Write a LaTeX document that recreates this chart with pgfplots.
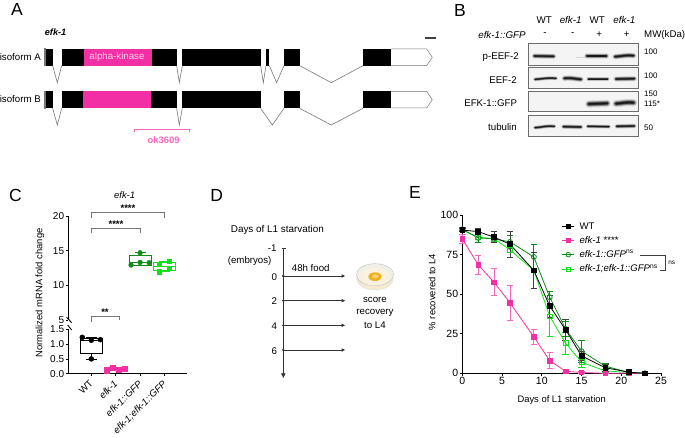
\documentclass[border=0pt]{standalone}
\usepackage{pgfplots}
\pgfplotsset{compat=1.18}
\usepgfplotslibrary{statistics}
\usepackage{fontspec}
\setmainfont{Liberation Sans}
\usetikzlibrary{arrows.meta}
\definecolor{mypink}{HTML}{F32FA5}
\definecolor{lpink}{HTML}{F766BE}
\definecolor{dgreen}{HTML}{0E8C18}
\definecolor{lgreen}{HTML}{12E01A}
\definecolor{gline}{HTML}{777777}
\definecolor{blotbg}{HTML}{F4F4F4}
\definecolor{dishA}{HTML}{F4EAD0}
\definecolor{dishB}{HTML}{EFEFEA}
\definecolor{dishC}{HTML}{FAF2DE}
\definecolor{dishD}{HTML}{EFB020}
\definecolor{dishE}{HTML}{F6CF70}
\newcommand{\fs}[1]{\fontsize{#1}{#1}\selectfont}
\newcommand{\band}[5]{% x1 y1 x2 y2 strength
  \foreach \w/\o in {20/0.08,16/0.14,13/0.2,10/0.3,7/0.45,4/0.6}{
    \draw[line width=\w*#5*0.3333pt,line cap=round,black,opacity=\o] (#1,#2) .. controls ({(#1+#3)/2},{#2-2}) and ({(#1+#3)/2},{#4-2}) .. (#3,#4);
  }}
\newcommand{\blotbox}[2]{\fill[blotbg] (250,#1) rectangle (580,#2); \draw[gray!85!black,line width=0.9pt] (250,#1) rectangle (580,#2);}
\pgfplotstableread{
x y e
0 90.5 1
2 89.5 2
4 86 3.5
6 81.5 8
9 65 11.5
11 42.5 7
13 27.5 6.5
15 11 3
18 3.5 2
21 0.7 0.5
23 0 0
}\tWT
\pgfplotstableread{
x y e
0 85 3
2 68.5 6
4 57.5 8.5
6 44.5 11
9 23 4.5
11 8 5
13 1.3 1
15 0.5 0.5
18 0 0
21 0 0
23 0 0
}\tKO
\pgfplotstableread{
x y e
0 91 1
2 85.5 3
4 85 2
6 83 4
9 73.5 8
11 48 4
13 28 5
15 14 7
18 4.5 2
21 0.5 0.5
23 0 0
}\tGFP
\pgfplotstableread{
x y e
0 90.5 1
2 86 3
4 85 2
6 78 5
9 65 11.5
11 36 13
13 19 7
15 7 3
18 1.5 1
21 0.5 0.5
23 0 0
}\tDBL
\begin{document}
\begin{tikzpicture}
\useasboundingbox (0,0) rectangle (685pt,-437pt);
% ---------- Panel A
\begin{scope}[x=0.3333pt,y=-0.3333pt]
\node[font=\fs{17.5}] at (51,27) {A};
\node[font=\fs{9.2}\bfseries\itshape,anchor=west,inner sep=0pt] at (134,98) {efk-1};
\fill[black!75] (1275,110) rectangle (1307,116);
\node[font=\fs{9.7},anchor=east,inner sep=0pt] at (123,171) {isoform A};
\node[font=\fs{9.7},anchor=east,inner sep=0pt] at (123,296) {isoform B};
\draw[gline,line width=0.5pt] (134,146) rectangle (137,197);
\draw[gline,line width=0.5pt] (134,273) rectangle (137,325);
\foreach \a/\b in {137/158,185/251,455/530,547/782,798/808,852/899,1089/1174}
  \fill[black] (\a,146) rectangle (\b,198);
\fill[mypink] (251,146) rectangle (455,198);
\node[font=\fs{9.7},white!80!mypink] at (351,172) {alpha-kinase};
\draw[gline,line width=0.5pt,fill=white] (1174,147)--(1280,147)--(1297,172)--(1280,197)--(1174,197);
\foreach \a/\m/\b in {158/172/185,530/538/547,782/790/798,808/830/852,899/994/1089}
  \draw[gline,line width=0.6pt] (\a,197)--(\m,248)--(\b,197);
\foreach \a/\b in {137/158,185/250,454/530,547/782,852/899,1089/1174}
  \fill[black] (\a,273) rectangle (\b,325);
\fill[mypink] (250,273) rectangle (454,325);
\draw[gline,line width=0.5pt,fill=white] (1174,274)--(1280,274)--(1297,299)--(1280,324)--(1174,324);
\foreach \a/\m/\b in {158/172/185,530/538/547,782/817/852,899/994/1089}
  \draw[gline,line width=0.6pt] (\a,325)--(\m,375)--(\b,325);
\draw[lpink,line width=0.6pt] (403,396)--(403,389)--(569,389)--(569,396);
\node[font=\fs{9.4}\bfseries,text=lpink] at (491,420) {ok3609};
\end{scope}
% ---------- Panel B
\begin{scope}[shift={(445pt,0pt)},x=0.3333pt,y=-0.3333pt]
\node[font=\fs{17.5}] at (45,31) {B};
\foreach \x/\t in {298/WT,457/WT} \node[font=\fs{9.8}] at (\x,59) {\t};
\foreach \x in {377,538} \node[font=\fs{9.8}\itshape] at (\x,60) {efk-1};
\node[font=\fs{9.8}\itshape] at (171,104) {efk-1::GFP};
\foreach \x/\t in {300/-,383/-,463/+,545/+} \node[font=\fs{9.8}] at (\x,103) {\t};
\node[font=\fs{9.7},anchor=west,inner sep=0pt] at (597,104) {MW(kDa)};
\node[font=\fs{9.7},anchor=east,inner sep=0pt] at (222,170) {p-EEF-2};
\node[font=\fs{9.7},anchor=east,inner sep=0pt] at (216,240) {EEF-2};
\node[font=\fs{9.7},anchor=east,inner sep=0pt] at (217,311) {EFK-1::GFP};
\node[font=\fs{9.7},anchor=east,inner sep=0pt] at (216,381) {tubulin};
\foreach \y/\t in {155/100,228/100,282/150,311/115*,384/50} \node[font=\fs{8},anchor=west,inner sep=0pt] at (597,\y) {\t};
\blotbox{130}{195}\blotbox{203}{265}\blotbox{274}{335}\blotbox{345}{408}
\band{268}{168}{326}{169}{0.8}
\draw[line width=1pt,line cap=round,black,opacity=0.12] (395,172)--(420,172);
\band{426}{168}{484}{168}{0.85}
\band{510}{170}{566}{167}{0.85}
\band{270}{238}{333}{235}{0.6}
\band{358}{235}{408}{238}{0.85}
\band{430}{237}{488}{237}{0.6}
\band{513}{237}{568}{236}{0.8}
\band{431}{312}{487}{310}{1.1}
\band{513}{311}{566}{308}{1.1}
\band{270}{383}{328}{379}{0.6}
\band{355}{380}{408}{381}{0.7}
\band{428}{379}{492}{380}{0.6}
\band{515}{379}{568}{378}{0.7}
\end{scope}
% ---------- Panel C annotations
\begin{scope}[shift={(0pt,-180pt)},x=0.3333pt,y=-0.3333pt]
\node[font=\fs{17.5}] at (46,45) {C};
\node[font=\fs{9.4}\itshape] at (374,45) {efk-1};
\draw[gline,line width=0.7pt] (274,113)--(274,97)--(494,97)--(494,113);
\draw[gline,line width=0.7pt] (274,160)--(274,145)--(421,145)--(421,160);
\draw[gline,line width=0.7pt] (274,425)--(274,410)--(357,410)--(357,420);
\node[font=\fs{9.6}\bfseries] at (384,85) {****};
\node[font=\fs{9.6}\bfseries] at (348,133) {****};
\node[font=\fs{9.6}\bfseries] at (315,398) {**};
\draw[black,line width=0.9pt] (200,412)--(215,428);
\draw[black,line width=0.9pt] (203,435)--(215,450);
\end{scope}
% lower part of C
\begin{axis}[at={(68.3pt,-373.7pt)},anchor=south west,scale only axis,width=118.4pt,height=44.4pt,
  axis lines=left,axis line style={-,line width=0.9pt},xmin=-0.943,xmax=3.91,ymin=0,ymax=1.5,
  ytick={0,0.5,1,1.5},yticklabels={0.0,0.5,1.0,1.5},xtick={0,1,2,3},
  xticklabels={WT,\textit{efk-1},\textit{efk-1::GFP},\textit{efk-1;efk-1::GFP}},
  x tick label style={rotate=45,anchor=north east,font=\fs{9.6},inner sep=1.5pt,yshift=1pt,xshift=-2.5pt},
  y tick label style={font=\fs{10},inner sep=1.5pt},
  /pgf/number format/assume math mode=true,
  tick align=outside,major tick length=2.5pt,tick style={black,line width=0.7pt},
  ylabel={Normalized mRNA fold change},
  every axis y label/.style={at={(rel axis cs:-0.239,1.82)},rotate=90,anchor=center,font=\fs{9.4}},
  clip=false]
\addplot[black,line width=0.8pt,boxplot/draw direction=y,boxplot prepared={lower whisker=0.5,lower quartile=0.68,median=1.13,upper quartile=1.18,upper whisker=1.23,draw position=0,box extend=0.9,whisker extend=0.45}] coordinates {};
\addplot[only marks,mark=*,mark size=2.5pt,black] coordinates {(-0.37,1.23)(0,1.13)(0.37,1.15)(0,0.5)};
\addplot[mypink,line width=0.8pt,boxplot/draw direction=y,boxplot prepared={lower whisker=0.1,lower quartile=0.12,median=0.17,upper quartile=0.2,upper whisker=0.21,draw position=1,box extend=0.9,whisker extend=0.45}] coordinates {};
\addplot[only marks,mark=square*,mark size=2.5pt,mypink] coordinates {(0.64,0.1)(0.89,0.21)(1.14,0.15)(1.38,0.18)};
\end{axis}
% upper part of C
\begin{axis}[at={(68.3pt,-320pt)},anchor=south west,scale only axis,width=118.4pt,height=104pt,
  axis y line=left,axis x line=none,axis line style={-,line width=0.9pt},xmin=-0.943,xmax=3.91,ymin=5,ymax=20,
  ytick={5,10,15,20},
  y tick label style={font=\fs{10},inner sep=1.5pt},
  /pgf/number format/assume math mode=true,
  tick align=outside,major tick length=2.5pt,tick style={black,line width=0.7pt},clip=false]
\addplot[dgreen,line width=0.8pt,boxplot/draw direction=y,boxplot prepared={lower whisker=12.93,lower quartile=12.93,median=13.3,upper quartile=14.28,upper whisker=14.7,draw position=2,box extend=0.9,whisker extend=0.45}] coordinates {};
\addplot[only marks,mark=*,mark size=2.4pt,dgreen] coordinates {(1.63,12.93)(2,13.3)(2.37,13.27)(2,14.7)};
\addplot[lgreen,line width=0.8pt,boxplot/draw direction=y,boxplot prepared={lower whisker=12,lower quartile=12.1,median=12.8,upper quartile=13.3,upper whisker=13.5,draw position=3,box extend=0.9,whisker extend=0.45}] coordinates {};
\addplot[only marks,mark=square*,mark size=2.3pt,lgreen] coordinates {(2.78,13.04)(2.78,11.97)(3.19,13.5)(3.19,12.46)};
\end{axis}
% ---------- Panel D
\begin{scope}[shift={(200pt,-180pt)},x=0.3333pt,y=-0.3333pt]
\node[font=\fs{17.5}] at (50,45) {D};
\node[font=\fs{9.9},anchor=west,inner sep=0pt] at (92,150) {Days of L1 starvation};
\draw[black!80,line width=0.7pt,-{Latex[length=5pt,width=5pt]}] (250,205)--(250,595);
\draw[black!80,line width=0.7pt] (245,205)--(258,205);
\node[font=\fs{9.7},anchor=east,inner sep=0pt] at (230,205) {-1};
\node[font=\fs{9.7},anchor=east,inner sep=0pt] at (215,244) {(embryos)};
\node[font=\fs{9.7},anchor=west,inner sep=0pt] at (275,263) {48h food};
\foreach \y/\ty/\t in {288/290/0,362/362/2,436/438/4,510/515/6}{
  \node[font=\fs{9.7},anchor=east,inner sep=0pt] at (232,\ty) {\t};
  \fill[black!80] (250,\y) circle (4);
  \draw[black!80,line width=0.7pt,-{Latex[length=3.6pt,width=3.6pt]}] (250,\y)--(436,\y);
}
\fill[dishA,draw=black!12,line width=0.4pt] (525,296) ellipse (55 and 34);
\fill[dishB,draw=black!25,line width=0.4pt] (525,284) ellipse (56 and 33);
\fill[dishC] (525,290) ellipse (46 and 26);
\fill[dishD] (525,290) ellipse (20 and 13);
\fill[dishE] (526,289) ellipse (10 and 6);
\node[font=\fs{9.7}] at (525,360) {score};
\node[font=\fs{9.7}] at (525,398) {recovery};
\node[font=\fs{9.7}] at (525,436) {to L4};
\end{scope}
% ---------- Panel E
\begin{scope}[shift={(410pt,-180pt)},x=0.3333pt,y=-0.3333pt]
\node[font=\fs{17.5}] at (15,38) {E};
\end{scope}
\begin{axis}[at={(462.3pt,-373.3pt)},anchor=south west,scale only axis,width=198.7pt,height=158.3pt,
  axis lines=left,axis line style={-,line width=0.9pt},xmin=0,xmax=25,ymin=0,ymax=100,
  xtick={0,5,...,25},ytick={0,25,50,75,100},
  tick label style={font=\fs{10.5},inner sep=1.5pt},
  /pgf/number format/assume math mode=true,
  tick align=outside,major tick length=2.5pt,tick style={black,line width=0.7pt},
  xlabel={Days of L1 starvation},ylabel={\% recovered to L4},
  every axis x label/.style={at={(rel axis cs:0.5,-0.169)},anchor=center,font=\fs{9.4}},
  every axis y label/.style={at={(rel axis cs:-0.1525,0.514)},rotate=90,anchor=center,font=\fs{9.4}},
  clip=false,
  legend image code/.code={\draw[mark repeat=2,mark phase=2,#1] plot coordinates {(0cm,0cm)(0.21cm,0cm)(0.42cm,0cm)};},
  legend cell align=left,
  legend style={draw=none,fill=none,at={(rel axis cs:0.5,0.96)},anchor=north west,font=\fs{9.6},inner sep=0pt,row sep=3.6pt,
    nodes={inner sep=1pt}}
  ]
\addlegendimage{black,line width=0.8pt,mark=square*,mark size=2.1pt}
\addlegendentry{\hspace{4pt}WT}
\addlegendimage{mypink,line width=0.8pt,mark=square*,mark size=2.1pt}
\addlegendentry{\hspace{4pt}\textit{efk-1} ****}
\addlegendimage{dgreen,line width=0.8pt,mark=o,mark size=2.3pt}
\addlegendentry{\hspace{4pt}\textit{efk-1::GFP}\textsuperscript{ns}}
\addlegendimage{lgreen,line width=0.8pt,mark=square,mark size=2.1pt}
\addlegendentry{\hspace{4pt}\textit{efk-1;efk-1::GFP}\textsuperscript{ns}}
\addplot[forget plot,lgreen,line width=0.8pt,mark=square,mark size=2.4pt,mark options={fill=none},
  error bars/.cd,y dir=both,y explicit,error bar style={line width=0.8pt,lgreen},error mark options={rotate=90,mark size=3.2pt,line width=0.8pt,lgreen}]
  table[x=x,y=y,y error=e] {\tDBL};
\addplot[forget plot,dgreen,line width=0.8pt,mark=o,mark size=2.5pt,mark options={fill=none},
  error bars/.cd,y dir=both,y explicit,error bar style={line width=0.8pt,dgreen},error mark options={rotate=90,mark size=3.2pt,line width=0.8pt,dgreen}]
  table[x=x,y=y,y error=e] {\tGFP};
\addplot[forget plot,mypink,line width=0.8pt,mark=square*,mark size=2.3pt,
  error bars/.cd,y dir=both,y explicit,error bar style={line width=0.9pt,lpink},error mark options={rotate=90,mark size=3.2pt,line width=0.9pt,lpink}]
  table[x=x,y=y,y error=e] {\tKO};
\addplot[forget plot,black,line width=0.8pt,mark=square*,mark size=2.4pt,
  error bars/.cd,y dir=both,y explicit,error bar style={line width=0.8pt,black!75},error mark options={rotate=90,mark size=3.2pt,line width=0.8pt,black!75}]
  table[x=x,y=y,y error=e] {\tWT};
\end{axis}
\begin{scope}[shift={(555pt,-215pt)},x=0.3333pt,y=-0.3333pt]
\draw[black!75,line width=0.6pt] (256,120)--(330,120)--(330,165)--(316,165);
\node[font=\fs{6.4}] at (350,143) {ns};
\end{scope}
\end{tikzpicture}
\end{document}
